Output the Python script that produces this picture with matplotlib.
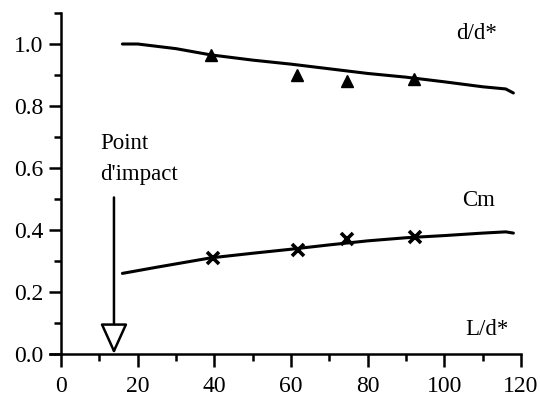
import matplotlib
matplotlib.use("Agg")
import matplotlib.pyplot as plt
from matplotlib.ticker import MultipleLocator

# Data
dd_curve_x = [16, 20, 30, 39, 50, 60, 70, 80, 90, 100, 110, 116, 118]
dd_curve_y = [1.0, 1.0, 0.985, 0.965, 0.948, 0.935, 0.92, 0.905, 0.893, 0.878, 0.862, 0.855, 0.842]
dd_pts_x = [39, 61.6, 74.7, 92]
dd_pts_y = [0.965, 0.90, 0.88, 0.887]

cm_curve_x = [16, 25, 39, 50, 60, 70, 80, 90, 100, 110, 116, 118]
cm_curve_y = [0.26, 0.28, 0.31, 0.325, 0.338, 0.352, 0.365, 0.375, 0.382, 0.39, 0.394, 0.39]
cm_pts_x = [39.7, 61.9, 74.7, 92.4]
cm_pts_y = [0.31, 0.335, 0.37, 0.378]

impact_x = 13.8
xticks = [0, 20, 40, 60, 80, 100, 120]
yticks = [0.0, 0.2, 0.4, 0.6, 0.8, 1.0]

plt.rcParams['font.family'] = ['Liberation Serif', 'DejaVu Serif']

fig = plt.figure(figsize=(5.4, 3.99), dpi=100)
ax = fig.add_axes([0.0932, 0.1128, 0.8717, 0.8546])

ax.plot(dd_curve_x, dd_curve_y, color='black', lw=2.2, solid_capstyle='round')
ax.plot(dd_pts_x, dd_pts_y, ls='none', marker='^', ms=9, color='black')
ax.plot(cm_curve_x, cm_curve_y, color='black', lw=2.2, solid_capstyle='round')
ax.plot(cm_pts_x, cm_pts_y, ls='none', marker='x', ms=8, mew=2.6, color='black')

ax.annotate('', xy=(impact_x, 0.0), xytext=(impact_x, 0.505),
            arrowprops=dict(arrowstyle='-|>,head_length=0.95,head_width=0.43',
                            mutation_scale=20, fc='white', ec='black', lw=1.8,
                            shrinkA=0, shrinkB=0))

fs = 16.5
ax.text(10.2, 0.68, 'Point', fontsize=fs, va='center', ha='left')
ax.text(10.2, 0.58, "d'impact", fontsize=fs, va='center', ha='left')
ax.text(103, 1.035, 'd/d*', fontsize=fs, va='center', ha='left')
ax.text(104.7, 0.495, 'Cm', fontsize=fs, va='center', ha='left')
ax.text(105.5, 0.08, 'L/d*', fontsize=fs, va='center', ha='left')

ax.set_xlim(-2.8, 120)
ax.set_ylim(0, 1.1)
ax.spines['left'].set_position(('data', 0))
for s in ['top', 'right']:
    ax.spines[s].set_visible(False)
for s in ['left', 'bottom']:
    ax.spines[s].set_linewidth(1.8)
ax.set_xticks(xticks)
ax.set_yticks(yticks)
ax.set_yticklabels([f'{v:.1f}' for v in yticks])
ax.xaxis.set_minor_locator(MultipleLocator(10))
ax.yaxis.set_minor_locator(MultipleLocator(0.1))
ax.tick_params(which='major', length=9, width=1.8, labelsize=17, direction='out')
ax.tick_params(which='minor', length=5, width=1.8, direction='out')
ax.tick_params(axis='x', pad=7)
ax.tick_params(axis='y', pad=4)

fig.savefig('out.png', dpi=100)
